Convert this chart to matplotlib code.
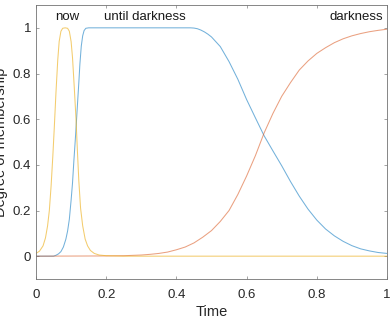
import matplotlib
matplotlib.use("Agg")
import matplotlib.pyplot as plt

plt.rcParams['font.family'] = ['Liberation Sans', 'DejaVu Sans']

# "until darkness" (blue)
until_x = [0.0, 0.050, 0.057, 0.064, 0.071, 0.078, 0.085, 0.090, 0.095, 0.100, 0.104, 0.108,
           0.112, 0.116, 0.119, 0.122, 0.125, 0.129, 0.133, 0.137, 0.142, 0.150,
           0.440, 0.450, 0.460, 0.470, 0.480, 0.490, 0.500, 0.525, 0.550, 0.575, 0.600,
           0.625, 0.650, 0.675, 0.700, 0.725, 0.750, 0.775, 0.800, 0.825, 0.850, 0.875,
           0.900, 0.925, 0.950, 0.975, 1.0]
until_y = [0.0, 0.0, 0.004, 0.010, 0.020, 0.040, 0.074, 0.110, 0.162, 0.245, 0.320, 0.420,
           0.511, 0.610, 0.686, 0.760, 0.840, 0.920, 0.965, 0.988, 0.998, 1.0,
           1.0, 0.999, 0.996, 0.990, 0.982, 0.972, 0.960, 0.918, 0.852, 0.775, 0.686,
           0.606, 0.527, 0.461, 0.396, 0.327, 0.263, 0.206, 0.158, 0.119, 0.089, 0.065,
           0.046, 0.032, 0.023, 0.016, 0.012]

# "darkness" (red)
dark_x = [0.0, 0.20, 0.25, 0.30, 0.325, 0.35, 0.375, 0.40, 0.425, 0.45, 0.475, 0.50,
          0.525, 0.55, 0.575, 0.60, 0.625, 0.65, 0.675, 0.70, 0.725, 0.75, 0.775,
          0.80, 0.825, 0.85, 0.875, 0.90, 0.925, 0.95, 0.975, 1.0]
dark_y = [0.0, 0.001, 0.002, 0.005, 0.008, 0.012, 0.018, 0.028, 0.040, 0.058, 0.083, 0.112,
          0.152, 0.200, 0.270, 0.351, 0.440, 0.540, 0.625, 0.700, 0.760, 0.815, 0.855,
          0.888, 0.913, 0.935, 0.952, 0.965, 0.975, 0.983, 0.989, 0.994]

# "now" (yellow)
now_x = [0.0, 0.010, 0.020, 0.027, 0.033, 0.038, 0.043, 0.048, 0.052, 0.057, 0.062, 0.066,
         0.071, 0.076, 0.083, 0.090, 0.095, 0.100, 0.104, 0.109, 0.114, 0.118, 0.122,
         0.127, 0.133, 0.140, 0.147, 0.155, 0.166, 0.180, 0.200, 0.250, 1.0]
now_y = [0.012, 0.022, 0.045, 0.080, 0.133, 0.200, 0.307, 0.440, 0.560, 0.720, 0.860, 0.940,
         0.985, 0.998, 1.0, 0.998, 0.985, 0.940, 0.870, 0.740, 0.600, 0.460, 0.330,
         0.210, 0.133, 0.075, 0.045, 0.025, 0.012, 0.005, 0.002, 0.0, 0.0]

labels = ["now", "until darkness", "darkness"]
label_x = [0.089, 0.31, 0.913]

xticks = [0, 0.2, 0.4, 0.6, 0.8, 1]
xticklabels = ["0", "0.2", "0.4", "0.6", "0.8", "1"]
yticks = [0, 0.2, 0.4, 0.6, 0.8, 1]
yticklabels = ["0", "0.2", "0.4", "0.6", "0.8", "1"]

fig = plt.figure(figsize=(3.91, 3.16), dpi=100)
ax = fig.add_axes([36/391, 37/316, 351/391, 274/316])

ax.plot(until_x, until_y, color=(0.0, 0.447, 0.741), lw=0.75, alpha=0.55)
ax.plot(dark_x, dark_y, color=(0.85, 0.325, 0.098), lw=0.75, alpha=0.55)
ax.plot(now_x, now_y, color=(0.929, 0.694, 0.125), lw=0.75, alpha=0.65)

for t, lx in zip(labels, label_x):
    ax.text(lx, 1.048, t, ha='center', va='center', fontsize=9.5, color=(0.1, 0.1, 0.1))

ax.set_xlim(0, 1)
ax.set_ylim(-0.1, 1.1)
ax.set_xticks(xticks)
ax.set_xticklabels(xticklabels)
ax.set_yticks(yticks)
ax.set_yticklabels(yticklabels)
gc = (0.15, 0.15, 0.15)
ax.tick_params(direction='in', top=True, right=True, length=2.5, width=0.5,
               color=(0.5, 0.5, 0.5), labelsize=9.5, labelcolor=gc)
ax.tick_params(axis='x', pad=7)
ax.tick_params(axis='y', pad=3.5)
for s in ax.spines.values():
    s.set_color((0.45, 0.45, 0.45))
    s.set_linewidth(0.6)

ax.set_xlabel("Time", fontsize=10.5, color=gc)
ax.set_ylabel("Degree of membership", fontsize=10.5, color=gc)
ax.xaxis.set_label_coords(0.5, -0.095)
ax.yaxis.set_label_coords(-0.081, 0.5)

fig.savefig("out.png", dpi=100)
